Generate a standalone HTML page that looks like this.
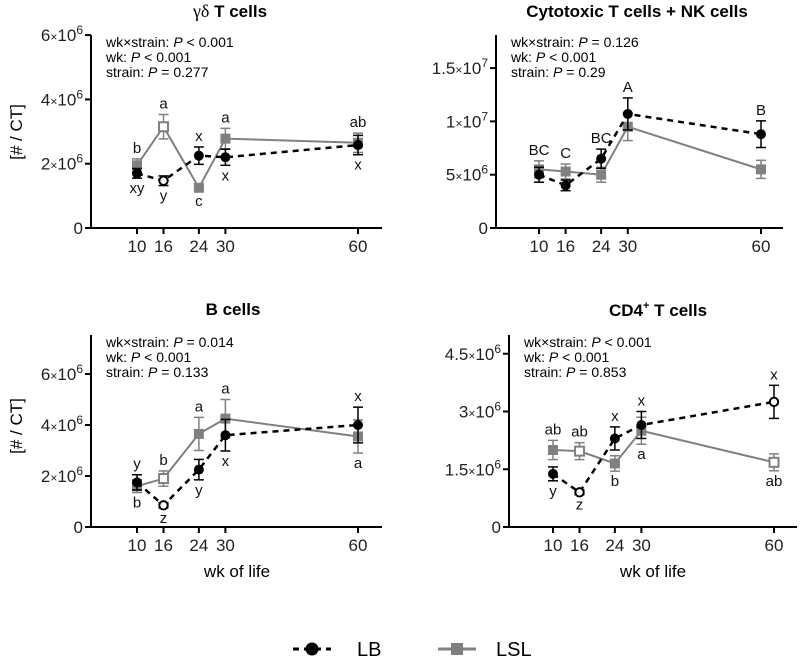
<!DOCTYPE html>
<html><head><meta charset="utf-8"><style>
html,body{margin:0;padding:0;background:#fff;}
svg{display:block;font-family:"Liberation Sans",Arial,sans-serif;}
</style></head><body>
<svg id="chart" width="800" height="659" viewBox="0 0 800 659" xmlns="http://www.w3.org/2000/svg">
<g id="legend">
  <g>
    <line x1="293" y1="649" x2="331" y2="649" stroke="#000" stroke-width="3" stroke-dasharray="6,5"/>
    <circle cx="312" cy="649" r="6.5" fill="#000"/>
    <text x="357" y="656" font-size="20">LB</text>
  </g>
  <g>
    <line x1="438" y1="649" x2="476" y2="649" stroke="#808080" stroke-width="3"/>
    <rect x="451" y="643" width="12" height="12" fill="#808080"/>
    <text x="496" y="656" font-size="20">LSL</text>
  </g>
</g>
</svg>
<script>
const weeks = [10, 16, 24, 30, 60];
// panel 1: gamma delta T cells (x1e6)
const gdLB = [1.7, 1.47, 2.25, 2.2, 2.58];
const gdLBerr = [0.15, 0.15, 0.27, 0.25, 0.3];
const gdLSL = [1.95, 3.15, 1.25, 2.78, 2.65];
const gdLSLerr = [0.2, 0.38, 0.1, 0.32, 0.3];
const gdLBopen = [0, 1, 0, 0, 0];
const gdLSLopen = [0, 1, 0, 0, 0];
const gdLBlet = ['xy', 'y', 'x', 'x', 'x'];
const gdLBpos = ['b', 'b', 'a', 'b', 'b'];
const gdLSLlet = ['b', 'a', 'c', 'a', 'ab'];
const gdLSLpos = ['a', 'a', 'b', 'a', 'a'];
// panel 2: cytotoxic T + NK (x1e6)
const ctLB = [5.0, 4.0, 6.5, 10.7, 8.8];
const ctLBerr = [0.7, 0.5, 0.9, 1.5, 1.25];
const ctLSL = [5.5, 5.3, 5.0, 9.5, 5.5];
const ctLSLerr = [0.8, 0.7, 0.7, 1.3, 0.85];
const ctLBopen = [0, 0, 0, 0, 0];
const ctLSLopen = [0, 0, 0, 0, 0];
const ctLBlet = ['BC', 'C', 'BC', 'A', 'B'];
const ctLBpos = ['t', 't', 't', 't', 't'];
const ctLSLlet = ['', '', '', '', ''];
const ctLSLpos = ['a', 'a', 'a', 'a', 'a'];
// panel 3: B cells (x1e6)
const bLB = [1.75, 0.85, 2.25, 3.6, 4.0];
const bLBerr = [0.3, 0.1, 0.4, 0.62, 0.7];
const bLSL = [1.6, 1.9, 3.65, 4.25, 3.55];
const bLSLerr = [0.25, 0.3, 0.65, 0.75, 0.65];
const bLBopen = [0, 1, 0, 0, 0];
const bLSLopen = [0, 1, 0, 0, 0];
const bLBlet = ['y', 'z', 'y', 'x', 'x'];
const bLBpos = ['a', 'b', 'b', 'b', 'a'];
const bLSLlet = ['b', 'b', 'a', 'a', 'a'];
const bLSLpos = ['b', 'a', 'a', 'a', 'b'];
// panel 4: CD4+ T cells (x1e6)
const cdLB = [1.38, 0.9, 2.3, 2.65, 3.25];
const cdLBerr = [0.18, 0.06, 0.3, 0.35, 0.43];
const cdLSL = [2.0, 1.97, 1.65, 2.5, 1.68];
const cdLSLerr = [0.25, 0.22, 0.2, 0.35, 0.22];
const cdLBopen = [0, 1, 0, 0, 1];
const cdLSLopen = [0, 1, 0, 0, 1];
const cdLBlet = ['y', 'z', 'x', 'x', 'x'];
const cdLBpos = ['b', 'b', 'a', 'a', 'a'];
const cdLSLlet = ['ab', 'ab', 'b', 'a', 'ab'];
const cdLSLpos = ['a', 'a', 'b', 'b', 'b'];
// tick labels
const gdTicks = [0, 2, 4, 6];
const gdTickLbl = [['0',''], ['2×10','6'], ['4×10','6'], ['6×10','6']];
const ctTicks = [0, 5, 10, 15];
const ctTickLbl = [['0',''], ['5×10','6'], ['1×10','7'], ['1.5×10','7']];
const bTicks = [0, 2, 4, 6];
const bTickLbl = [['0',''], ['2×10','6'], ['4×10','6'], ['6×10','6']];
const cdTicks = [0, 1.5, 3, 4.5];
const cdTickLbl = [['0',''], ['1.5×10','6'], ['3×10','6'], ['4.5×10','6']];

const NS = 'http://www.w3.org/2000/svg';
const svg = document.getElementById('chart');
function mk(tag, attrs, parent) {
  const e = document.createElementNS(NS, tag);
  for (const k in attrs) e.setAttribute(k, attrs[k]);
  (parent || svg).appendChild(e);
  return e;
}

function panel(cfg) {
  const g = mk('g', {});
  
  
  const xS = w => cfg.x10 + (w - 10) * (cfg.x60 - cfg.x10) / 50;
  const yS = v => cfg.y0 - v * cfg.pxPerUnit;
  const t = mk('text', {x: cfg.tx, y: cfg.ty, 'font-size': 17, 'font-weight': 'bold', 'text-anchor': 'middle'}, g);
  
  
  t.innerHTML = cfg.title;
  const ya = mk('line', {x1: cfg.ax, y1: cfg.top, x2: cfg.ax, y2: cfg.y0, stroke: '#000', 'stroke-width': 2}, g);
  
  
  const xa = mk('line', {x1: cfg.ax - 1, y1: cfg.y0, x2: cfg.xr, y2: cfg.y0, stroke: '#000', 'stroke-width': 2}, g);
  
  
  cfg.ticks.forEach((v, i) => {
    const y = yS(v);
    mk('line', {x1: cfg.ax - 6, y1: y, x2: cfg.ax, y2: y, stroke: '#000', 'stroke-width': 2}, g);
    const tl = mk('text', {x: cfg.ax - 8, y: y + 6, 'font-size': 17, 'text-anchor': 'end', fill: '#222'}, g);
    
    
    const lbl = cfg.tickLbl[i];
    if (lbl[1]) {
      tl.innerHTML = lbl[0].replace('×', '<tspan font-size="12">×</tspan>') + '<tspan font-size="12" dy="-7">' + lbl[1] + '</tspan>';
    } else tl.textContent = lbl[0];
  });
  weeks.forEach(w => {
    const x = xS(w);
    mk('line', {x1: x, y1: cfg.y0, x2: x, y2: cfg.y0 + 6, stroke: '#000', 'stroke-width': 2}, g);
    const xl = mk('text', {x: x, y: cfg.y0 + 24, 'font-size': 17, 'text-anchor': 'middle', fill: '#222'}, g);
    
    
    xl.textContent = w;
  });
  if (cfg.ylabel) {
    const yl = mk('text', {x: 0, y: 0, 'font-size': 17, 'text-anchor': 'middle', transform: `translate(22,${cfg.ylabelY}) rotate(-90)`}, g);
    
    
    yl.textContent = '[# / CT]';
  }
  if (cfg.xlabel) {
    const xl = mk('text', {x: cfg.xlabelX, y: cfg.y0 + 50, 'font-size': 17, 'text-anchor': 'middle'}, g);
    
    
    xl.textContent = 'wk of life';
  }
  cfg.stats.forEach((s, i) => {
    const st = mk('text', {x: cfg.ax + 15, y: cfg.top + 12 + i * 15, 'font-size': 14}, g);
    
    
    st.innerHTML = s[0] + ' <tspan font-style="italic">P</tspan> ' + s[1];
  });
  function series(vals, errs, open, lets, pos, color, dashed, kind) {
    const sg = mk('g', {}, g);
    
    
    const pts = vals.map((v, i) => xS(weeks[i]) + ',' + yS(v)).join(' ');
    const pl = mk('polyline', {points: pts, fill: 'none', stroke: color, 'stroke-width': dashed ? 2.5 : 2, 'stroke-dasharray': dashed ? '6,5' : 'none'}, sg);
    
    
    vals.forEach((v, i) => {
      const x = xS(weeks[i]), yT = yS(v + errs[i]), yB = yS(v - errs[i]);
      mk('line', {x1: x, y1: yT, x2: x, y2: yB, stroke: color, 'stroke-width': 1.5}, sg);
      mk('line', {x1: x - 5, y1: yT, x2: x + 5, y2: yT, stroke: color, 'stroke-width': 1.5}, sg);
      mk('line', {x1: x - 5, y1: yB, x2: x + 5, y2: yB, stroke: color, 'stroke-width': 1.5}, sg);
      let m;
      if (kind === 'lb') {
        m = mk('circle', {cx: x, cy: yS(v), r: open[i] ? 4.2 : 5, fill: open[i] ? '#fff' : '#000', stroke: '#000', 'stroke-width': open[i] ? 2 : 0}, sg);
      } else {
        m = open[i] ? mk('rect', {x: x - 4.5, y: yS(v) - 4.5, width: 9, height: 9, fill: '#fff', stroke: color, 'stroke-width': 2}, sg)
                    : mk('rect', {x: x - 5, y: yS(v) - 5, width: 10, height: 10, fill: color}, sg);
      }
      
      
      if (lets[i]) {
        let ly;
        if (pos[i] === 'a') ly = yT - 6;
        else if (pos[i] === 't') ly = Math.min(yT, yS(cfg.other[i] + cfg.otherErr[i])) - 6;
        else ly = yB + 15;
        const lt = mk('text', {x: x, y: ly, 'font-size': 15, 'text-anchor': 'middle', fill: '#111'}, sg);
        
        
        lt.textContent = lets[i];
      }
    });
  }
  series(cfg.lsl, cfg.lslErr, cfg.lslOpen, cfg.lslLet, cfg.lslPos, '#808080', false, 'lsl');
  series(cfg.lb, cfg.lbErr, cfg.lbOpen, cfg.lbLet, cfg.lbPos, '#000', true, 'lb');
}

panel({name: 'panel-gd-t-cells', title: '<tspan font-family="Liberation Serif" font-weight="normal" font-size="18">γδ</tspan> T cells', tx: 230, ty: 17,
  ax: 91, top: 35, y0: 228, xr: 382, x10: 137, x60: 358, pxPerUnit: 32.15,
  ticks: gdTicks, tickLbl: gdTickLbl, ylabel: true, ylabelY: 132,
  stats: [['wk×strain:', '&lt; 0.001'], ['wk:', '&lt; 0.001'], ['strain:', '= 0.277']],
  lb: gdLB, lbErr: gdLBerr, lbOpen: gdLBopen, lbLet: gdLBlet, lbPos: gdLBpos,
  lsl: gdLSL, lslErr: gdLSLerr, lslOpen: gdLSLopen, lslLet: gdLSLlet, lslPos: gdLSLpos});
panel({name: 'panel-cytotoxic-nk', title: 'Cytotoxic T cells + NK cells', tx: 637, ty: 17,
  ax: 496, top: 35, y0: 228, xr: 783, x10: 539, x60: 761, pxPerUnit: 10.66,
  ticks: ctTicks, tickLbl: ctTickLbl,
  stats: [['wk×strain:', '= 0.126'], ['wk:', '&lt; 0.001'], ['strain:', '= 0.29']],
  lb: ctLB, lbErr: ctLBerr, lbOpen: ctLBopen, lbLet: ctLBlet, lbPos: ctLBpos,
  other: ctLSL, otherErr: ctLSLerr,
  lsl: ctLSL, lslErr: ctLSLerr, lslOpen: ctLSLopen, lslLet: ctLSLlet, lslPos: ctLSLpos});
panel({name: 'panel-b-cells', title: 'B cells', tx: 233, ty: 315,
  ax: 91, top: 335, y0: 527, xr: 382, x10: 137, x60: 358, pxPerUnit: 25.5,
  ticks: bTicks, tickLbl: bTickLbl, ylabel: true, ylabelY: 426, xlabel: true, xlabelX: 237,
  stats: [['wk×strain:', '= 0.014'], ['wk:', '&lt; 0.001'], ['strain:', '= 0.133']],
  lb: bLB, lbErr: bLBerr, lbOpen: bLBopen, lbLet: bLBlet, lbPos: bLBpos,
  lsl: bLSL, lslErr: bLSLerr, lslOpen: bLSLopen, lslLet: bLSLlet, lslPos: bLSLpos});
panel({name: 'panel-cd4-t-cells', title: 'CD4<tspan font-size="11" dy="-7">+</tspan><tspan dy="7"> T cells</tspan>', tx: 658, ty: 316,
  ax: 509, top: 335, y0: 527, xr: 797, x10: 553, x60: 774, pxPerUnit: 38.5,
  ticks: cdTicks, tickLbl: cdTickLbl, xlabel: true, xlabelX: 653,
  stats: [['wk×strain:', '&lt; 0.001'], ['wk:', '&lt; 0.001'], ['strain:', '= 0.853']],
  lb: cdLB, lbErr: cdLBerr, lbOpen: cdLBopen, lbLet: cdLBlet, lbPos: cdLBpos,
  lsl: cdLSL, lslErr: cdLSLerr, lslOpen: cdLSLopen, lslLet: cdLSLlet, lslPos: cdLSLpos});
</script>
</body></html>
